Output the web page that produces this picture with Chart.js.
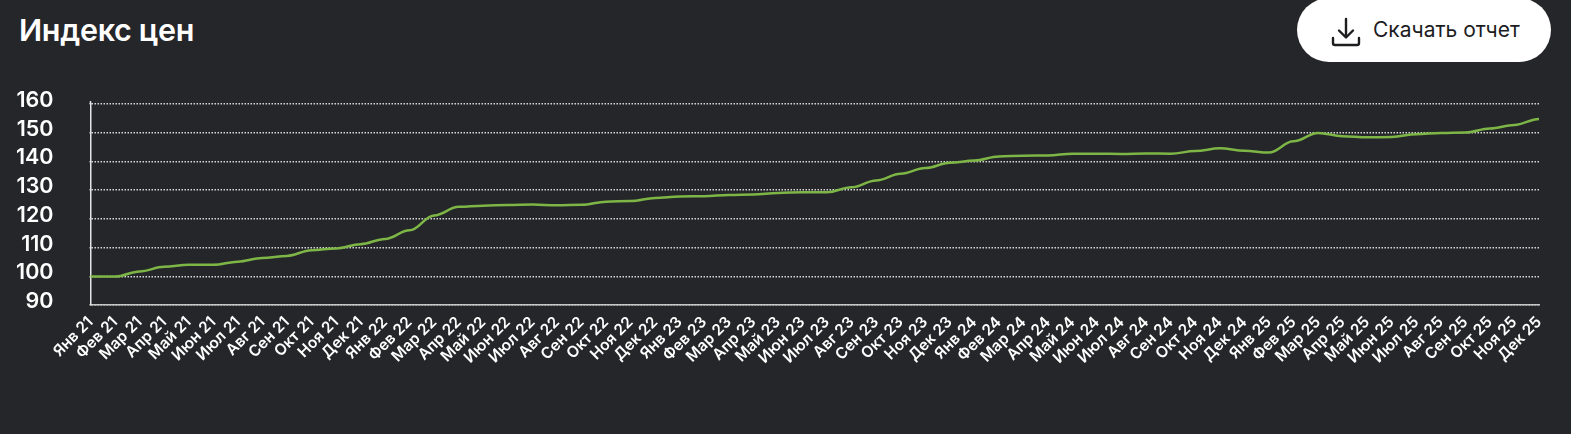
<!DOCTYPE html>
<html lang="ru">
<head>
<meta charset="utf-8">
<title>Индекс цен</title>
<script src="https://cdn.jsdelivr.net/npm/chart.js@4"></script>
<style>
    html, body { margin: 0; padding: 0; width: 1571px; height: 434px; overflow: hidden; background: #252629; font-family: Inter, sans-serif; }
    h1 { position: absolute; left: 19px; top: 11px; margin: 0; color: #fff; font-size: 30.5px; line-height: 38px; font-weight: 600; letter-spacing: -0.3px; }
    .download { position: absolute; left: 1297px; top: -2px; width: 254px; height: 64px; border-radius: 32px; background: #fff; color: #1d1d1f; font-size: 21px; font-weight: 400; }
    .download svg { position: absolute; left: 34px; top: 19px; }
    .download span { position: absolute; left: 76px; top: 20px; line-height: 24px; white-space: nowrap; }
    #wrap { position: absolute; left: 0; top: 80px; width: 1571px; height: 354px; }
</style>
</head>
<body>
<h1>Индекс цен</h1>
<div class="download">
    <svg width="30" height="30" viewBox="0 0 30 30" fill="none" stroke="#1d1d1f" stroke-width="2.4" stroke-linecap="round" stroke-linejoin="round">
        <path d="M15 2v18M8 13.5l7 7 7-7M2 21v5a2 2 0 0 0 2 2h22a2 2 0 0 0 2-2v-5"/>
    </svg>
    <span>Скачать отчет</span>
</div>
<div id="wrap"><canvas id="price-chart"></canvas></div>
<script>
const labels = [
    "Янв 21", "Фев 21", "Мар 21", "Апр 21", "Май 21", "Июн 21", "Июл 21", "Авг 21", "Сен 21", "Окт 21", "Ноя 21", "Дек 21",
    "Янв 22", "Фев 22", "Мар 22", "Апр 22", "Май 22", "Июн 22", "Июл 22", "Авг 22", "Сен 22", "Окт 22", "Ноя 22", "Дек 22",
    "Янв 23", "Фев 23", "Мар 23", "Апр 23", "Май 23", "Июн 23", "Июл 23", "Авг 23", "Сен 23", "Окт 23", "Ноя 23", "Дек 23",
    "Янв 24", "Фев 24", "Мар 24", "Апр 24", "Май 24", "Июн 24", "Июл 24", "Авг 24", "Сен 24", "Окт 24", "Ноя 24", "Дек 24",
    "Янв 25", "Фев 25", "Мар 25", "Апр 25", "Май 25", "Июн 25", "Июл 25", "Авг 25", "Сен 25", "Окт 25", "Ноя 25", "Дек 25"
];
const priceIndex = [
    99.9, 99.9, 101.7, 103.3, 104, 104, 105.1, 106.4, 107.1, 109.1, 109.7, 111.2,
    113, 116, 121.2, 124.2, 124.6, 124.8, 125, 124.7, 124.9, 126, 126.2, 127.3,
    127.8, 127.9, 128.3, 128.5, 129, 129.3, 129.3, 131, 133.4, 135.7, 137.7, 139.5,
    140.3, 141.7, 142, 142.1, 142.7, 142.7, 142.6, 142.8, 142.7, 143.6, 144.6, 143.7,
    143.1, 147, 149.9, 148.8, 148.4, 148.5, 149.5, 149.9, 150.1, 151.5, 152.7, 154.8
];

// в оригинале кривая типа "bump": в каждой точке касательная горизонтальная
const bumpCurve = {
    id: "bumpCurve",
    beforeDatasetDraw(chart, args) {
        const line = args.meta.dataset;
        line.updateControlPoints(chart.chartArea);
        const pts = args.meta.data;
        pts.forEach((p, i) => {
            const dx = i > 0 ? (p.x - pts[i - 1].x) * 0.38 : 0;
            p.cp1x = p.x - dx;
            p.cp1y = p.y;
            p.cp2x = p.x + dx;
            p.cp2y = p.y;
        });
    }
};

// ось Y чуть выше верхней линии сетки, как в оригинале
const axisCap = {
    id: "axisCap",
    afterDraw(chart) {
        const { ctx, chartArea } = chart;
        ctx.save();
        ctx.strokeStyle = "#e6e6e6";
        ctx.lineWidth = 1.5;
        ctx.beginPath();
        ctx.moveTo(chartArea.left, chartArea.top - 3);
        ctx.lineTo(chartArea.left, chartArea.top);
        ctx.stroke();
        ctx.restore();
    }
};

new Chart(document.getElementById("price-chart"), {
    type: "line",
    data: {
        labels: labels,
        datasets: [{
            data: priceIndex,
            borderColor: "#7db646",
            borderWidth: 2.5,
            pointRadius: 0,
            tension: 0.4,
            capBezierPoints: false
        }]
    },
    options: {
        responsive: true,
        maintainAspectRatio: false,
        animation: false,
        layout: { padding: { top: 24, right: 32, bottom: 0, left: 0 } },
        plugins: { legend: { display: false }, tooltip: { enabled: false } },
        scales: {
            x: {
                offset: false,
                afterFit(scale) {
                    scale.height = 129;
                    scale.paddingLeft = 0;
                    scale.paddingRight = 0;
                },
                grid: { display: false },
                border: { display: true, color: "#c8c8c8", width: 1.5 },
                ticks: {
                    color: "#fff",
                    font: { family: "Inter", size: 15.5, weight: "600" },
                    autoSkip: false,
                    minRotation: 45,
                    maxRotation: 45,
                    padding: 0
                }
            },
            y: {
                min: 90,
                max: 160,
                afterFit(scale) {
                    scale.width = 90.5;
                    scale.paddingTop = 0;
                    scale.paddingBottom = 0;
                },
                border: { display: true, color: "#e6e6e6", width: 1.5, dash: [1.5, 1.5] },
                grid: { color: "#d8d8d8", lineWidth: 1.5, tickLength: 1 },
                ticks: {
                    stepSize: 10,
                    autoSkip: false,
                    color: "#fff",
                    font: { family: "Inter", size: 21.5, weight: "600" },
                    padding: 36,
                    labelOffset: -3.5
                }
            }
        }
    },
    plugins: [bumpCurve, axisCap]
});
</script>
</body>
</html>
